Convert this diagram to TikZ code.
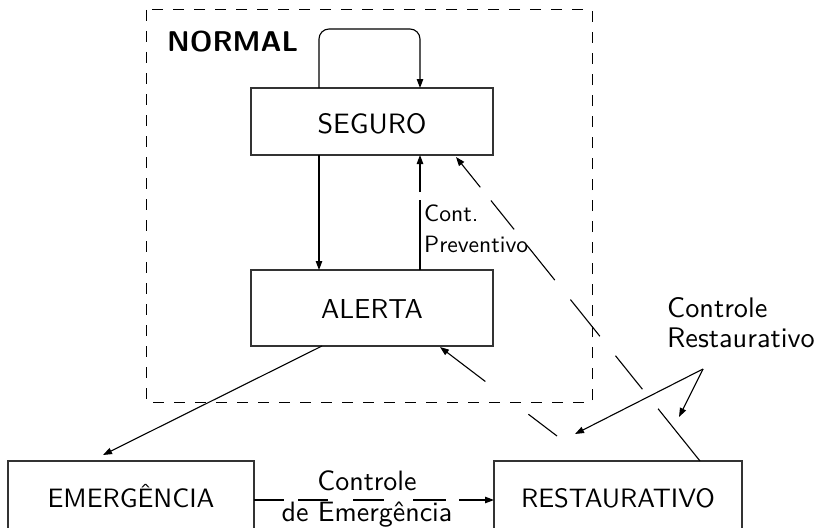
\documentclass[tikz,border=0pt]{standalone}
\usepackage{fontspec}
\setsansfont{lmsans10-regular.otf}[BoldFont=lmsans10-bold.otf]
\usetikzlibrary{arrows.meta,calc}
\begin{document}
\begin{tikzpicture}[x=1pt,y=-1pt,
  box/.style={draw=black!80, line width=1.3pt, inner sep=0pt, outer sep=0pt,
    font=\sffamily\fontsize{28}{31}\selectfont, text height=21pt, text depth=0pt},
  lbl/.style={font=\sffamily\fontsize{28}{31}\selectfont, inner sep=0pt},
  smalllbl/.style={font=\sffamily\fontsize{23.6}{31}\selectfont, inner sep=0pt, align=left},
  conn/.style={line width=1.1pt, -{Triangle[length=9pt,width=6.5pt]}},
]
\useasboundingbox (0,0) rectangle (821,527);
\clip (0,0) rectangle (821,527);
% NORMAL region
\draw[line width=1pt, dash pattern=on 11pt off 10pt] (146,10) rectangle (592,402);
\node[font=\sffamily\bfseries\fontsize{28.6}{31}\selectfont, inner sep=0pt, anchor=base west] (normal) at (167,52) {NORMAL};
% states
\node[box, text height=23pt, minimum width=242pt, minimum height=67pt] (seguro) at (372,121.5) {SEGURO};
\node[box, font=\sffamily\fontsize{27.4}{31}\selectfont, minimum width=242pt, minimum height=76pt] (alerta) at (372,308) {ALERTA};
\node[box, font=\sffamily\fontsize{26.6}{31}\selectfont, text height=18pt, minimum width=246pt, minimum height=74pt] (emerg) at (131,498) {EMERGÊNCIA};
\node[box, font=\sffamily\fontsize{26.6}{31}\selectfont, text height=18pt, minimum width=248pt, minimum height=74pt] (restaur) at (618,498) {RESTAURATIVO};
% self loop on SEGURO
\draw[conn, rounded corners=10pt] ($(seguro.north west)+(68,0)$) -- ++(0,-59) -- ++(101,0) -- ($(seguro.north west)+(169,0)$);
% SEGURO -> ALERTA
\draw[conn] ($(seguro.south west)+(68,0)$) -- ($(alerta.north west)+(68,0)$);
% ALERTA -> SEGURO (preventive)
\draw[conn, dash pattern=on 70pt off 8pt on 100pt] ($(alerta.north west)+(169,0)$) -- ($(seguro.south west)+(169,0)$);
\node[smalllbl, anchor=base west] (cplab) at (424,252) {Cont.\\Preventivo};
% ALERTA -> EMERGENCIA
\coordinate (emtip) at (103,455);
\draw[conn] ($(alerta.south west)+(71,0)$) -- (emtip);
% EMERGENCIA -> RESTAURATIVO
\draw[conn, dash pattern=on 30pt off 14pt on 30pt off 25pt on 31pt off 29pt on 33pt off 13pt on 100pt] (emerg.east |- 0,500) -- (restaur.west |- 0,500);
\node[lbl, align=center, anchor=base] (celab) at (367,521) {Controle\\de Emergência};
% RESTAURATIVO -> SEGURO
\draw[conn, dash pattern=on 67pt off 25pt on 43pt off 25pt on 47pt off 25pt on 45pt off 20pt on 37pt off 17pt on 100pt] ($(restaur.north west)+(206,0)$) -- ($(seguro.south east)+(-37,2)$);
% RESTAURATIVO -> ALERTA
\coordinate (rastart) at (557,436);
\draw[conn, dash pattern=on 36pt off 54pt on 100pt] (rastart) -- ($(alerta.south east)+(-53,1)$);
% Controle Restaurativo label
\node[lbl, font=\sffamily\fontsize{28.3}{30}\selectfont, align=left, anchor=base west] (crlab) at (667,347) {Controle\\Restaurativo};
\coordinate (crfrom) at (703,369);
\coordinate (crt1) at (575,434);
\coordinate (crt2) at (679,417);
\draw[conn] (crfrom) -- (crt1);
\draw[conn] (crfrom) -- (crt2);
\end{tikzpicture}
\end{document}
